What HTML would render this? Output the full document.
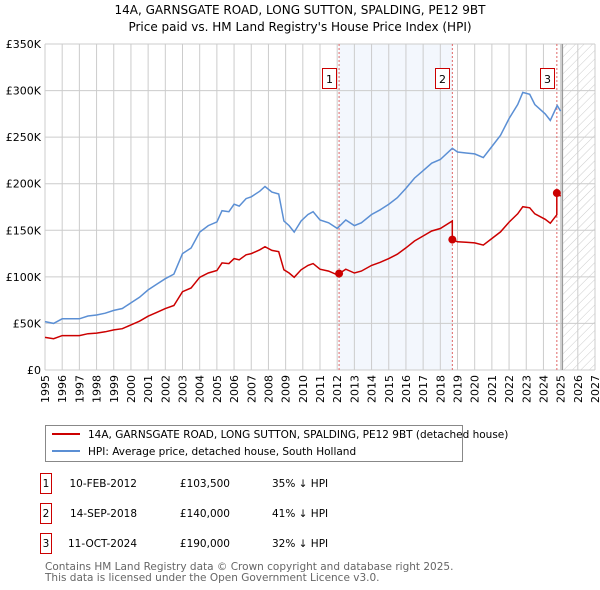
<!DOCTYPE html>
<html><head><meta charset="utf-8"><style>
body{margin:0;background:#fff;font-family:"DejaVu Sans","Liberation Sans",sans-serif;}
#wrap{position:relative;width:600px;height:590px;overflow:hidden}
</style></head><body>
<div id="wrap">
<svg id="chart" width="600" height="590" xmlns="http://www.w3.org/2000/svg" font-family="DejaVu Sans, Liberation Sans, sans-serif">
<defs>
<pattern id="hatch" width="6" height="6" patternUnits="userSpaceOnUse" patternTransform="rotate(45)">
<line x1="0" y1="0" x2="0" y2="6" stroke="#ccc" stroke-width="1"/></pattern>
</defs>
<text x="300" y="14" text-anchor="middle" font-size="12">14A, GARNSGATE ROAD, LONG SUTTON, SPALDING, PE12 9BT</text>
<text x="300" y="31" text-anchor="middle" font-size="12">Price paid vs. HM Land Registry's House Price Index (HPI)</text>
<g id="plot"></g>
<g>
<rect x="45.5" y="425.5" width="417" height="36" fill="#fff" stroke="#888"/>
<line x1="52" y1="434" x2="80" y2="434" stroke="#cc0000" stroke-width="2"/>
<text x="88" y="438" font-size="10.5">14A, GARNSGATE ROAD, LONG SUTTON, SPALDING, PE12 9BT (detached house)</text>
<line x1="52" y1="451" x2="80" y2="451" stroke="#5b8fd4" stroke-width="2"/>
<text x="88" y="455" font-size="10.5">HPI: Average price, detached house, South Holland</text>
</g>
<g id="table" font-size="10.5"></g>
<text x="45" y="570" font-size="10.5" fill="#666">Contains HM Land Registry data © Crown copyright and database right 2025.</text>
<text x="45" y="581" font-size="10.5" fill="#666">This data is licensed under the Open Government Licence v3.0.</text>
</svg>
</div>
<script>
const hpiYears=[1995,1995.5,1996,1996.5,1997,1997.5,1998,1998.5,1999,1999.5,2000,2000.5,2001,2001.5,2002,2002.5,2003,2003.5,2004,2004.5,2005,2005.3,2005.7,2006,2006.3,2006.7,2007,2007.5,2007.8,2008.2,2008.6,2008.9,2009.2,2009.5,2009.9,2010.3,2010.6,2011,2011.5,2012,2012.5,2013,2013.4,2014,2014.5,2015,2015.5,2016,2016.5,2017,2017.5,2018,2018.7,2019,2019.5,2020,2020.5,2021,2021.5,2022,2022.5,2022.8,2023.2,2023.5,2024.1,2024.4,2024.8,2025];
const hpiValues=[52,50,55,55,55,58,59,61,64,66,72,78,86,92,98,103,125,131,148,155,159,171,170,178,176,184,186,192,197,191,189,160,155,148,160,167,170,161,158,152,161,155,158,167,172,178,185,195,206,214,222,226,238,234,233,232,228,240,252,270,285,298,296,285,275,268,284,278];
const saleDates=[2012.11,2018.70,2024.78];
const salePrices=[103.5,140,190];
const saleLabels=["1","2","3"];
const saleDateText=["10-FEB-2012","14-SEP-2018","11-OCT-2024"];
const salePriceText=["£103,500","£140,000","£190,000"];
const saleDiffText=["35% ↓ HPI","41% ↓ HPI","32% ↓ HPI"];
const yTicks=[0,50,100,150,200,250,300,350];
const yTickLabels=["£0","£50K","£100K","£150K","£200K","£250K","£300K","£350K"];
const xTicks=[1995,1996,1997,1998,1999,2000,2001,2002,2003,2004,2005,2006,2007,2008,2009,2010,2011,2012,2013,2014,2015,2016,2017,2018,2019,2020,2021,2022,2023,2024,2025,2026,2027];

const X0=45,X1=595,Y0=370,Y1=44;
const xs=v=>X0+(v-1995)/(2027-1995)*(X1-X0);
const ys=v=>Y0-v/350*(Y0-Y1);
const NS="http://www.w3.org/2000/svg";
const plot=document.getElementById('plot');
function mk(tag,attrs,parent){const e=document.createElementNS(NS,tag);for(const k in attrs)e.setAttribute(k,attrs[k]);(parent||plot).appendChild(e);return e;}
function hpiAt(t){for(let i=0;i<hpiYears.length-1;i++){if(t<=hpiYears[i+1]){const f=(t-hpiYears[i])/(hpiYears[i+1]-hpiYears[i]);return hpiValues[i]+f*(hpiValues[i+1]-hpiValues[i]);}}return hpiValues[hpiValues.length-1];}

let e;
e=mk('rect',{x:xs(saleDates[0]),y:Y1,width:xs(saleDates[1])-xs(saleDates[0]),height:Y0-Y1,fill:'#eef3fc',opacity:0.7});


e=mk('rect',{x:xs(2025.1),y:Y1,width:X1-xs(2025.1),height:Y0-Y1,fill:'url(#hatch)'});


xTicks.forEach((t,i)=>{
 e=mk('line',{x1:xs(t),x2:xs(t),y1:Y1,y2:Y0,stroke:'#ccc','stroke-width':1});
 
 
 const lx=xs(t)+4,ly=Y0+5;
 e=mk('text',{x:lx,y:ly,'text-anchor':'end','font-size':11,transform:'rotate(-90 '+lx+' '+ly+')'});
 e.textContent=t;
 
 
});
yTicks.forEach((t,i)=>{
 e=mk('line',{x1:X0,x2:X1,y1:ys(t),y2:ys(t),stroke:'#ccc','stroke-width':1});
 
 
 e=mk('text',{x:X0-4,y:ys(t)+4,'text-anchor':'end','font-size':11});
 e.textContent=yTickLabels[i];
 
 
});
e=mk('line',{x1:xs(2025.1),x2:xs(2025.1),y1:Y1,y2:Y0,stroke:'#999','stroke-width':1.5});


saleDates.forEach((d,i)=>{
 e=mk('line',{x1:xs(d),x2:xs(d),y1:Y1,y2:Y0,stroke:'#e06666','stroke-width':1,'stroke-dasharray':'2,2'});
 
 
 const g=mk('g',{});
 
 
 const bx=Math.round(xs(d))-16.5;
 mk('rect',{x:bx,y:68.5,width:14,height:20,fill:'#fff',stroke:'#cc0000'},g);
 const tx=mk('text',{x:bx+7,y:83,'text-anchor':'middle','font-size':11},g);
 tx.textContent=saleLabels[i];
});
let dh=hpiYears.map((t,i)=>(i?'L':'M')+xs(t).toFixed(1)+','+ys(hpiValues[i]).toFixed(1)).join(' ');
e=mk('path',{d:dh,fill:'none',stroke:'#5b8fd4','stroke-width':1.5});


const bounds=[1995].concat(saleDates,[2025]);
let pts=[];
for(let s=0;s<bounds.length-1;s++){
 const k=Math.max(0,s-1);
 const r=salePrices[k]/hpiAt(saleDates[k]);
 const a=bounds[s],b=bounds[s+1];
 pts.push([a,hpiAt(a)*r]);
 hpiYears.forEach((t,i)=>{if(t>a&&t<b)pts.push([t,hpiValues[i]*r]);});
 pts.push([b,hpiAt(b)*r]);
}
let dr=pts.map((p,i)=>(i?'L':'M')+xs(p[0]).toFixed(1)+','+ys(p[1]).toFixed(1)).join(' ');
e=mk('path',{d:dr,fill:'none',stroke:'#cc0000','stroke-width':1.5});


saleDates.forEach((d,i)=>{
 e=mk('circle',{cx:xs(d),cy:ys(salePrices[i]),r:4,fill:'#cc0000'});
 
 
});
const tb=document.getElementById('table');
const rowY=[483,513,543];
saleLabels.forEach((l,i)=>{
 const g=mk('g',{},tb);
 
 
 mk('rect',{x:40.5,y:rowY[i]-9.5,width:11,height:20,fill:'#fff',stroke:'#cc0000'},g);
 let t=mk('text',{x:46,y:rowY[i]+4,'text-anchor':'middle'},g);t.textContent=l;
 t=mk('text',{x:137,y:rowY[i]+4,'text-anchor':'end'},g);t.textContent=saleDateText[i];
 t=mk('text',{x:230,y:rowY[i]+4,'text-anchor':'end'},g);t.textContent=salePriceText[i];
 t=mk('text',{x:272,y:rowY[i]+4},g);t.textContent=saleDiffText[i];
});
</script>
</body></html>
